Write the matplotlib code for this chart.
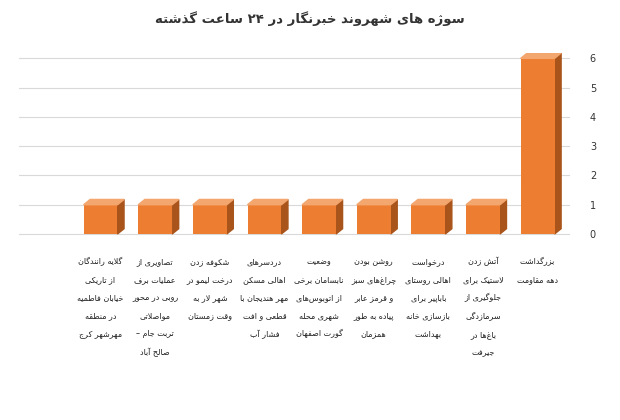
import re
import matplotlib
matplotlib.use("Agg")
import matplotlib.pyplot as plt
from matplotlib.patches import Polygon

title = "سوژه های شهروند خبرنگار در ۲۴ ساعت گذشته"
categories = [
    "گلایه رانندگان\nاز تاریکی\nخیابان فاطمیه\nدر منطقه\nمهرشهر کرج",
    "تصاویری از\nعملیات برف\nروبی در محور\nمواصلاتی\nتربت جام –\nصالح آباد",
    "شکوفه زدن\nدرخت لیمو در\nشهر لار به\nوقت زمستان",
    "دردسرهای\nاهالی مسکن\nمهر هندیجان با\nقطعی و افت\nفشار آب",
    "وضعیت\nنابسامان برخی\nاز اتوبوس‌های\nشهری محله\nگورت اصفهان",
    "روشن بودن\nچراغ‌های سبز\nو قرمز عابر\nپیاده به طور\nهمزمان",
    "درخواست\nاهالی روستای\nباباپیر برای\nبازسازی خانه\nبهداشت",
    "آتش زدن\nلاستیک برای\nجلوگیری از\nسرمازدگی\nباغ‌ها در\nجیرفت",
    "بزرگداشت\nدهه مقاومت",
]
values = [1, 1, 1, 1, 1, 1, 1, 1, 6]
yticks = [0, 1, 2, 3, 4, 5, 6]

# --- minimal Arabic/Persian shaper (presentation forms + visual order) ---
F = {
 'ا':(0xFE8D,0xFE8E),'آ':(0xFE81,0xFE82),'د':(0xFEA9,0xFEAA),'ذ':(0xFEAB,0xFEAC),
 'ر':(0xFEAD,0xFEAE),'ز':(0xFEAF,0xFEB0),'ژ':(0xFB8A,0xFB8B),'و':(0xFEED,0xFEEE),
 'ب':(0xFE8F,0xFE90,0xFE91,0xFE92),'پ':(0xFB56,0xFB57,0xFB58,0xFB59),
 'ت':(0xFE95,0xFE96,0xFE97,0xFE98),'ث':(0xFE99,0xFE9A,0xFE9B,0xFE9C),
 'ج':(0xFE9D,0xFE9E,0xFE9F,0xFEA0),'چ':(0xFB7A,0xFB7B,0xFB7C,0xFB7D),
 'ح':(0xFEA1,0xFEA2,0xFEA3,0xFEA4),'خ':(0xFEA5,0xFEA6,0xFEA7,0xFEA8),
 'س':(0xFEB1,0xFEB2,0xFEB3,0xFEB4),'ش':(0xFEB5,0xFEB6,0xFEB7,0xFEB8),
 'ص':(0xFEB9,0xFEBA,0xFEBB,0xFEBC),'ض':(0xFEBD,0xFEBE,0xFEBF,0xFEC0),
 'ط':(0xFEC1,0xFEC2,0xFEC3,0xFEC4),'ظ':(0xFEC5,0xFEC6,0xFEC7,0xFEC8),
 'ع':(0xFEC9,0xFECA,0xFECB,0xFECC),'غ':(0xFECD,0xFECE,0xFECF,0xFED0),
 'ف':(0xFED1,0xFED2,0xFED3,0xFED4),'ق':(0xFED5,0xFED6,0xFED7,0xFED8),
 'ک':(0xFB8E,0xFB8F,0xFB90,0xFB91),'گ':(0xFB92,0xFB93,0xFB94,0xFB95),
 'ل':(0xFEDD,0xFEDE,0xFEDF,0xFEE0),'م':(0xFEE1,0xFEE2,0xFEE3,0xFEE4),
 'ن':(0xFEE5,0xFEE6,0xFEE7,0xFEE8),'ه':(0xFEE9,0xFEEA,0xFEEB,0xFEEC),
 'ی':(0xFBFC,0xFBFD,0xFBFE,0xFBFF),
}
LAMALEF = {'ا':(0xFEFB,0xFEFC),'آ':(0xFEF5,0xFEF6)}

def dual(c):
    return c in F and len(F[c]) == 4

def shape(line):
    out = []
    i = 0
    n = len(line)
    while i < n:
        c = line[i]
        if c not in F:
            out.append(c); i += 1; continue
        prev = line[i-1] if i > 0 else ''
        cp = dual(prev)
        if c == 'ل' and i+1 < n and line[i+1] in LAMALEF:
            out.append(chr(LAMALEF[line[i+1]][1 if cp else 0])); i += 2; continue
        nxt = line[i+1] if i+1 < n else ''
        cn = nxt in F
        f = F[c]
        if len(f) == 4:
            if cp and cn: g = f[3]
            elif cp: g = f[1]
            elif cn: g = f[2]
            else: g = f[0]
        else:
            g = f[1] if cp else f[0]
        out.append(chr(g)); i += 1
    s = ''.join(out).replace('\u200c', '')
    s = s[::-1]
    s = re.sub(r'[0-9۰-۹]+', lambda m: m.group(0)[::-1], s)
    return s

def fa(text):
    return '\n'.join(shape(l) for l in text.split('\n'))

plt.rcParams['font.family'] = ['DejaVu Sans']
fig = plt.figure(figsize=(6.2, 4.2), dpi=100)
ax = fig.add_axes([0.03, 0.415, 0.89, 0.46])

x = list(range(len(values)))
w = 0.62
front = '#ED7D31'; side = '#A9541A'; top = '#F3A66E'
dx, dy = 0.12, 0.18
ax.bar(x, values, width=w, color=front, zorder=3)
for xi, v in zip(x, values):
    r = xi + w/2; l = xi - w/2
    ax.add_patch(Polygon([(r, 0), (r+dx, dy), (r+dx, v+dy), (r, v)], closed=True,
                         color=side, zorder=2))
    ax.add_patch(Polygon([(l, v), (l+dx, v+dy), (r+dx, v+dy), (r, v)], closed=True,
                         color=top, zorder=3))

ax.set_xlim(-1.5, len(values) - 0.4)
ax.set_ylim(-0.4, 6.2)
ax.set_yticks(yticks)
ax.yaxis.tick_right()
ax.tick_params(axis='y', length=0, labelsize=7, colors='#333333', pad=14)
ax.grid(axis='y', color='#D9D9D9', lw=0.8, zorder=0)
ax.set_xticks(x)
ax.set_xticklabels([fa(c) for c in categories], fontsize=5.8, linespacing=2.3,
                   va='top', ha='center')
ax.tick_params(axis='x', length=0, pad=8, colors='#222222')
for s in ax.spines.values():
    s.set_visible(False)

fig.text(0.5, 0.955, fa(title), ha='center', va='center', fontsize=9.5,
         fontweight='bold', color='#333333')
fig.savefig('out.png', dpi=100, facecolor='white')
